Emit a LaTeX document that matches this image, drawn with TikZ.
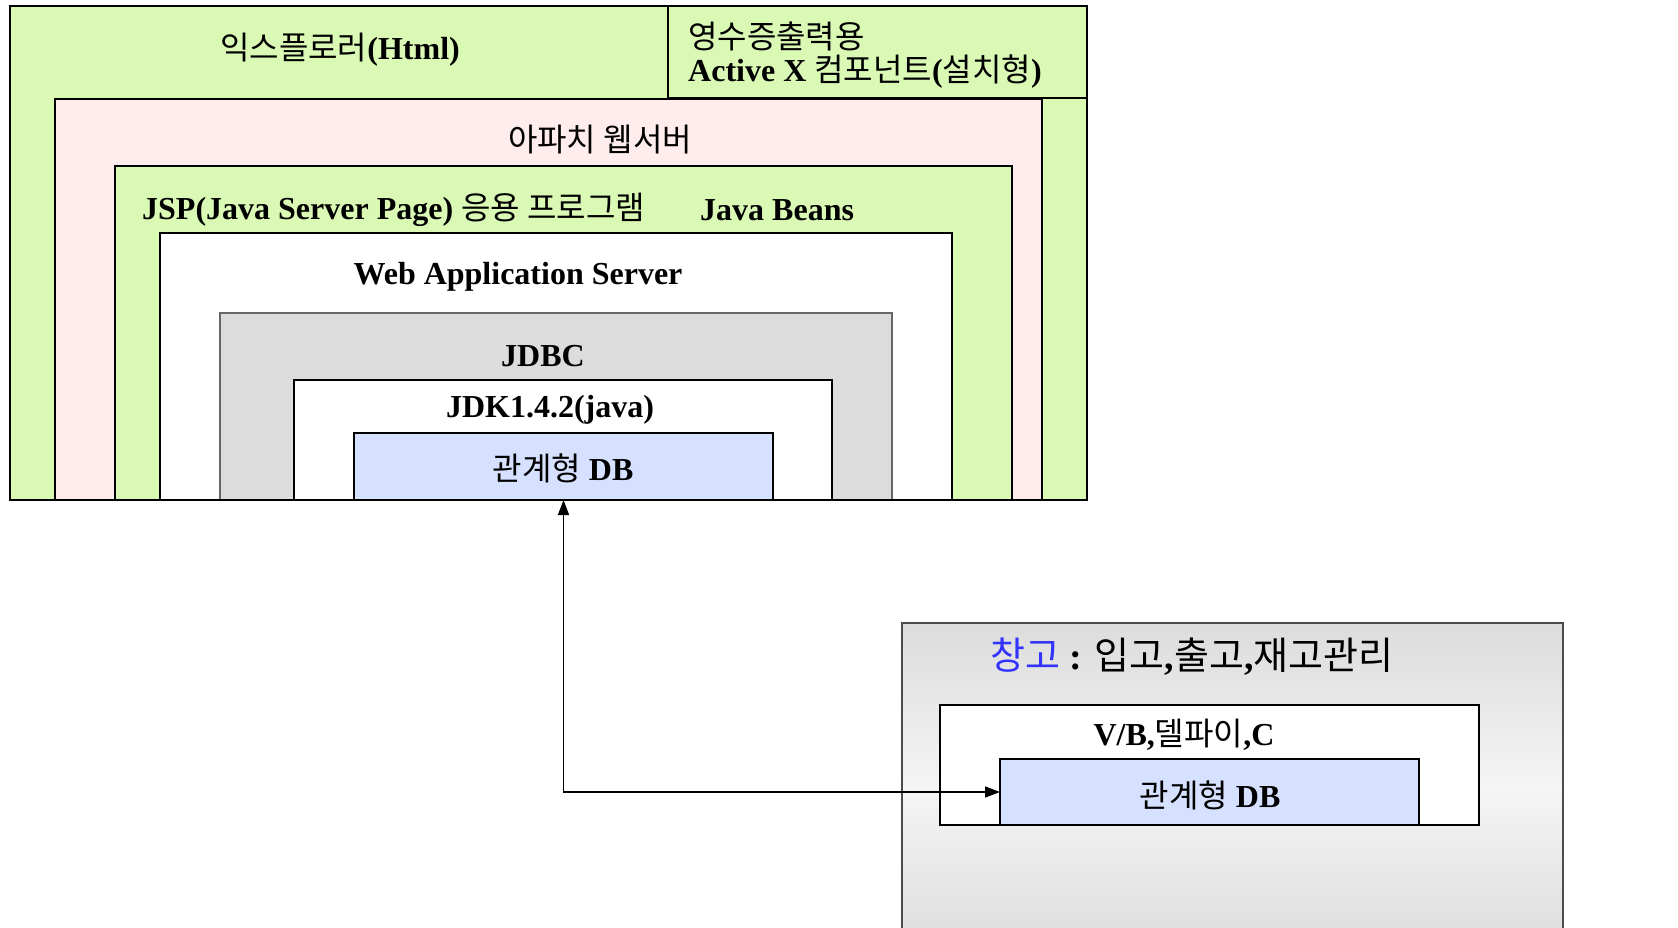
\documentclass[tikz,border=0pt]{standalone}
\usepackage{fontspec}
\setmainfont{Liberation Serif}
\newfontfamily\ko{Noto Sans CJK KR}
\usetikzlibrary{arrows.meta}
\definecolor{lgreen}{RGB}{218,249,181}
\definecolor{lpink}{RGB}{255,236,236}
\definecolor{lgray}{RGB}{220,220,220}
\definecolor{lblue}{RGB}{214,224,255}
\definecolor{kblue}{RGB}{51,51,255}
\newcommand{\K}[1]{{\ko\mdseries #1}}
\begin{document}
\begin{tikzpicture}[x=1pt,y=-1pt,
  layer/.style={draw=black,line width=1.6pt,rectangle,anchor=north west,inner sep=0pt,outer sep=0pt},
  lbl/.style={font=\fontsize{32}{36}\selectfont\bfseries,inner sep=0pt},
  big/.style={font=\fontsize{38}{42}\selectfont\bfseries,inner sep=0pt},
  arr/.style={line width=1.5pt,{Triangle[length=15pt,width=11pt]}-{Triangle[length=15pt,width=11pt]}}]
\useasboundingbox (0,0) rectangle (1678,928);
\clip (0,0) rectangle (1678,928);
% upper stack
\node[layer,fill=lgreen,minimum width=1077pt,minimum height=494pt] (outer) at (10,6) {};
\node[layer,fill=lgreen,minimum width=419pt,minimum height=92pt] (activex) at (668,6) {};
\node[layer,fill=lpink,minimum width=987pt,minimum height=401pt] (apache) at (55,99) {};
\node[layer,fill=lgreen,minimum width=897pt,minimum height=334pt] (jsp) at (115,166) {};
\node[layer,fill=white,minimum width=792pt,minimum height=267pt] (was) at (160,233) {};
\node[layer,draw=black!60,fill=lgray,minimum width=672pt,minimum height=187pt] (jdbc) at (220,313) {};
\node[layer,fill=white,minimum width=538pt,minimum height=120pt] (jdk) at (294,380) {};
\node[layer,fill=lblue,minimum width=419pt,minimum height=67pt] (db1) at (354,433) {};
\draw[line width=1.6pt] (outer.south west) -- (outer.south east);
% labels
\node[lbl] (t1) at (340,50) {\K{익스플로러}(Html)};
\node[lbl,anchor=west] (t2) at (688,36) {\K{영수증출력용}};
\node[lbl,anchor=west] (t3) at (688,72) {Active X \K{컴포넌트}(\K{설치형})};
\node[lbl] (t4) at (600,140) {\K{아파치 웹서버}};
\node[lbl,anchor=west] (t5) at (142,210) {JSP(Java Server Page) \K{응용 프로그램}};
\node[lbl,anchor=west] (t6) at (700,210) {Java Beans};
\node[lbl] (t7) at (518,277) {Web Application Server};
\node[lbl] (t8) at (543,356) {JDBC};
\node[lbl] (t9) at (550,410) {JDK1.4.2(java)};
\node[lbl] (t10) at (563,468) {\K{관계형} DB};
% lower right
\node[layer,draw=black!70,top color=lgray,bottom color=lgray,middle color=white!96!black,minimum width=661pt,minimum height=330pt] (store) at (902,623) {};
\node[layer,fill=white,minimum width=539pt,minimum height=120pt] (vb) at (940,705) {};
\node[layer,fill=lblue,minimum width=419pt,minimum height=66pt] (db2) at (1000,759) {};
\node[big,anchor=west] (t11) at (990,657) {\K{\color{kblue}창고} : \K{입고},\K{출고},\K{재고관리}};
\node[lbl] (t12) at (1184,735) {V/B,\K{델파이},C};
\node[lbl] (t13) at (1210,795) {\K{관계형} DB};
% connector
\draw[arr] (db1.south) |- (db2.west);
\end{tikzpicture}
\end{document}
